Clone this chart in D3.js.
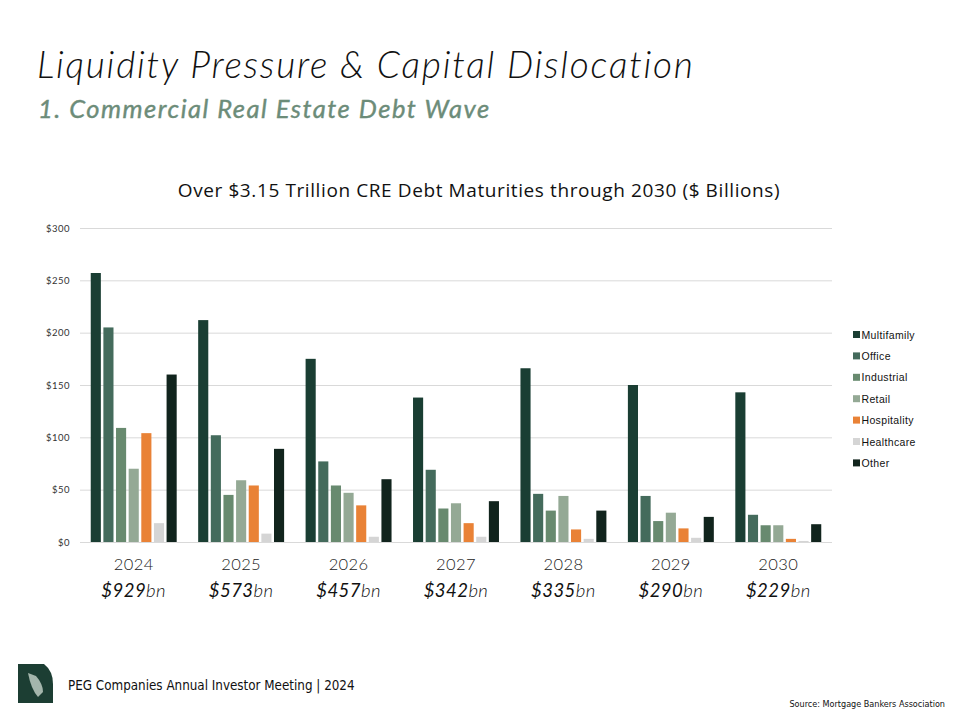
<!DOCTYPE html>
<html>
<head>
<meta charset="utf-8">
<script src="https://cdn.jsdelivr.net/npm/d3@7"></script>
<style>
  body { margin: 0; background: #fff; }
  svg { display: block; }
</style>
</head>
<body>
<div id="vis"></div>
<script>
// data
var years = ["2024", "2025", "2026", "2027", "2028", "2029", "2030"];
var totals = ["$929", "$573", "$457", "$342", "$335", "$290", "$229"];
var sectors = ["Multifamily", "Office", "Industrial", "Retail", "Hospitality", "Healthcare", "Other"];
var multifamily = [257, 212, 175, 138, 166, 150, 143];
var office      = [205, 102, 77, 69, 46, 44, 26];
var industrial  = [109, 45, 54, 32, 30, 20, 16];
var retail      = [70, 59, 47, 37, 44, 28, 16];
var hospitality = [104, 54, 35, 18, 12, 13, 3];
var healthcare  = [18, 8, 5, 5, 3, 4, 1];
var other       = [160, 89, 60, 39, 30, 24, 17];
var yTicks = [0, 50, 100, 150, 200, 250, 300];

var colors = ["#1a3e33", "#446b5c", "#688a6f", "#94a995", "#e98236", "#d5d5d5", "#11241d"];

var seriesVals = [multifamily, office, industrial, retail, hospitality, healthcare, other];
var data = years.map(function (y, i) {
    return { year: y, total: totals[i], vals: sectors.map(function (s, j) { return { key: s, value: seriesVals[j][i] }; }) };
});

var W = 960, H = 720;
var margin = { top: 228, right: 128, bottom: 178, left: 80 };

var svg = d3.select("#vis").append("svg")
    .attr("width", W)
    .attr("height", H);

// headings
svg.append("text")
    .attr("x", 37).attr("y", 78)
    .attr("font-family", "Lato, sans-serif")
    .attr("font-style", "italic")
    .attr("font-weight", 300)
    .attr("font-size", 37)
    .attr("letter-spacing", 1.75)
    .attr("fill", "#111")
    .text("Liquidity Pressure & Capital Dislocation");

svg.append("text")
    .attr("x", 38).attr("y", 118)
    .attr("font-family", "Lato, sans-serif")
    .attr("font-style", "italic")
    .attr("font-weight", 400)
    .attr("font-size", 25.5)
    .attr("letter-spacing", 1.5)
    .attr("fill", "#6c8c79")
    .attr("stroke", "#6c8c79")
    .attr("stroke-width", 0.4)
    .text("1. Commercial Real Estate Debt Wave");

svg.append("text")
    .attr("x", 479).attr("y", 197)
    .attr("text-anchor", "middle")
    .attr("font-family", "'Open Sans', sans-serif")
    .attr("font-size", 19)
    .attr("letter-spacing", 0.6)
    .attr("fill", "#111")
    .text("Over $3.15 Trillion CRE Debt Maturities through 2030 ($ Billions)");

var x0 = d3.scaleBand()
    .domain(years)
    .range([margin.left, W - margin.right])
    .paddingInner(0.2)
    .paddingOuter(0.1);

var x1 = d3.scaleBand()
    .domain(sectors)
    .range([0, x0.bandwidth()])
    .paddingInner(0.2)
    .paddingOuter(0);

var y = d3.scaleLinear()
    .domain([0, 300])
    .range([H - margin.bottom, margin.top]);

// grid + y labels
var yAxis = g => g
    .attr("transform", `translate(${margin.left},0)`)
    .call(d3.axisLeft(y).tickValues(yTicks).tickFormat(d => "$" + d).tickSize(-(W - margin.left - margin.right)).tickPadding(10))
    .call(g => g.select(".domain").remove())
    .call(g => g.selectAll(".tick line").attr("stroke", "#d9d9d9").attr("stroke-width", 1))
    .call(g => g.selectAll(".tick text")
        .attr("font-family", "Lato, sans-serif")
        .attr("font-size", 9.5)
        .attr("letter-spacing", 0.5)
        .attr("fill", "#333"));

svg.append("g").call(yAxis);

svg.append("g")
    .selectAll("g")
    .data(data)
    .join("g")
    .attr("transform", d => `translate(${x0(d.year)},0)`)
    .selectAll("rect")
    .data(d => d.vals)
    .join("rect")
    .attr("x", d => x1(d.key))
    .attr("y", d => y(d.value))
    .attr("width", x1.bandwidth())
    .attr("height", d => y(0) - y(d.value))
    .attr("fill", (d, i) => colors[i]);

// year labels + totals under the axis
var xAxis = g => g
    .attr("transform", `translate(0,${y(0)})`)
    .call(d3.axisBottom(x0).tickSize(0).tickPadding(16))
    .call(g => g.select(".domain").remove())
    .call(g => g.selectAll(".tick text")
        .attr("font-family", "Lato, sans-serif")
        .attr("font-weight", 300)
        .attr("font-size", 16.5)
        .attr("letter-spacing", 0.4)
        .attr("fill", "#222"));

svg.append("g").call(xAxis);

var tot = svg.append("g")
    .selectAll("text")
    .data(data)
    .join("text")
    .attr("x", d => x0(d.year) + x0.bandwidth() / 2)
    .attr("y", 597)
    .attr("text-anchor", "middle")
    .attr("font-family", "Lato, sans-serif")
    .attr("font-style", "italic")
    .attr("font-size", 18.5)
    .attr("letter-spacing", 0.45)
    .attr("fill", "#111");
tot.append("tspan").text(d => d.total);
tot.append("tspan").attr("font-weight", 300).text("bn");

// legend
var legend = svg.append("g")
    .attr("transform", "translate(853,335)")
    .attr("font-family", "'Liberation Sans', Arial, sans-serif")
    .attr("font-size", 10.5)
    .attr("letter-spacing", 0.35)
    .selectAll("g")
    .data(sectors)
    .join("g")
    .attr("transform", (d, i) => `translate(0,${i * 21.4})`);

legend.append("rect")
    .attr("x", 0).attr("y", -4)
    .attr("width", 7).attr("height", 7)
    .attr("fill", (d, i) => colors[i]);

legend.append("text")
    .attr("x", 8.5).attr("y", 0)
    .attr("dy", "0.35em")
    .attr("fill", "#111")
    .text(d => d);

// footer
svg.append("path")
    .attr("d", "M18,664 L44,664 Q53,671 53,684 L53,703 L18,703 Z")
    .attr("fill", "#1c3e33");
svg.append("path")
    .attr("d", "M28,673 L36,676 Q43,684 43,692 L38,697 Q31,689 28,673 Z")
    .attr("fill", "#a4b6ac");

svg.append("text")
    .attr("x", 68).attr("y", 690)
    .attr("font-family", "'Liberation Sans Narrow', 'DejaVu Sans Condensed', sans-serif")
    .attr("font-size", 13.3)
    .attr("fill", "#111")
    .text("PEG Companies Annual Investor Meeting | 2024");

svg.append("text")
    .attr("x", 945).attr("y", 707)
    .attr("text-anchor", "end")
    .attr("font-family", "'Liberation Sans Narrow', 'DejaVu Sans Condensed', sans-serif")
    .attr("font-size", 9)
    .attr("fill", "#111")
    .text("Source: Mortgage Bankers Association");
</script>
</body>
</html>
